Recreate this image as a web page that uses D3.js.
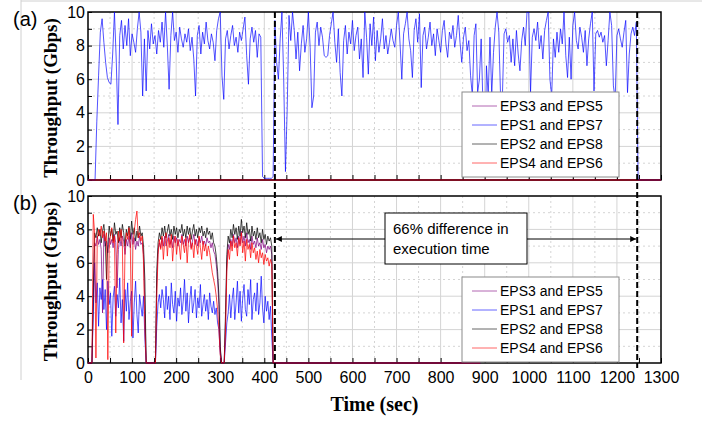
<!DOCTYPE html>
<html><head><meta charset="utf-8">
<script src="https://cdn.jsdelivr.net/npm/d3@7"></script>
<style>
body{margin:0;background:#fff;}
svg{display:block;font-family:"Liberation Sans",Arial,sans-serif;}
</style>
</head><body>
<svg id="c" width="702" height="422"></svg>
<script>
// ---------------- data ----------------
const seriesNames  = ["EPS3 and EPS5", "EPS1 and EPS7", "EPS2 and EPS8", "EPS4 and EPS6"];
const seriesColors = ["#800080", "#0000ff", "#000000", "#ff0000"];
const xTickValues = [0,100,200,300,400,500,600,700,800,900,1000,1100,1200,1300];
const yTickValues = [0,2,4,6,8,10];
const panelLabels = ["(a)", "(b)"];
const yTitle = "Throughput (Gbps)";
const xTitle = "Time (sec)";
const annotationLines = ["66% difference in", "execution time"];
const dashedTimes = [424, 1246];

// (a) sampled every 4 s from t = 0
const topStep = 4;
const topEPS1_7 = [
 0,0,0,0,0,3.5,6.2,8.8,9.6,8.2,
 7.0,6.1,5.8,5.7,7.5,10,7.2,3.3,8.6,9.5,
 7.8,9.2,8.0,9.6,7.4,8.7,8.2,7.6,9.0,10,
 8.8,5.0,8.4,5.3,8.9,7.8,9.3,8.1,8.6,7.5,
 8.9,8.2,9.4,7.9,10,8.0,5.4,8.6,10,8.3,
 8.8,7.6,9.1,8.4,7.9,8.7,8.2,9.0,7.7,8.5,
 7.2,5.0,8.6,9.2,7.5,8.8,8.1,9.4,8.3,7.8,
 8.7,8.2,7.1,8.9,9.6,10,6.2,4.8,8.4,8.9,
 7.8,8.6,9.2,8.0,8.5,7.6,8.8,8.3,9.0,9.7,
 7.4,5.7,8.4,9.1,8.2,8.9,7.3,8.7,8.5,0.2,
 0.1,0.1,0.1,0.1,0.1,0.2,9.5,7.0,6.0,8.4,
 10,6.0,0.5,4.3,9.8,8.3,10,8.9,7.2,8.8,
 6.5,8.1,9.2,7.6,8.4,10,7.9,4.3,5.0,8.8,
 9.4,8.0,9.1,8.5,7.4,7.3,7.4,8.6,9.3,10,
 8.2,7.0,9.0,6.4,5.0,8.3,9.2,7.5,8.8,8.1,
 9.5,7.7,8.6,9.1,7.2,8.4,6.1,10,8.5,6.3,
 9.3,8.0,9.7,7.1,8.9,7.6,8.4,9.6,7.8,8.6,
 7.5,8.2,9.0,8.3,7.9,9.2,10,8.1,6.0,8.7,
 9.3,10,8.4,7.7,6.1,8.9,9.6,8.2,9.9,5.5,
 8.6,9.1,7.8,8.5,9.4,8.0,8.7,7.4,9.0,8.3,
 7.6,8.9,9.5,8.1,7.3,8.8,8.4,9.2,7.9,8.6,
 9.8,8.2,7.0,8.5,9.1,7.7,8.3,6.2,5.0,8.6,
 9.3,5.2,6.0,8.4,4.5,0.2,6.8,5.0,8.5,5.1,
 7.6,9.1,10,8.8,5.0,4.8,8.7,9.0,8.2,8.6,
 7.0,8.4,6.8,8.9,7.5,6.5,8.3,9.1,8.0,10,
 10,5.2,8.5,9.0,8.3,9.4,7.8,8.6,7.2,8.9,
 9.5,10,6.0,5.0,8.4,7.3,8.8,7.6,9.0,8.1,
 10,7.4,6.1,8.5,6.0,9.2,10,8.3,7.8,9.1,
 8.5,7.6,8.9,6.8,8.4,9.3,10,5.3,8.7,8.9,
 8.5,8.8,8.2,8.6,6.8,8.3,10,9.2,5.6,4.8,
 8.6,9.0,8.4,7.9,8.8,9.5,5.2,7.5,8.7,9.1,
 8.6,9.4,0,0,0,0,0,0,0,0,
 0,0,0,0,0,0
];
const topZeroTimes = [0, 1300];      // other pairs carry no traffic in (a)
const topZeroValues = [0, 0];

// (b) sampled every 3 s from t = 0
const bottomStep = 3;
const bottomEPS3_5 = [
 0,0,0,0,3.8,7.2,7.0,7.6,7.1,7.4,
 6.8,3.0,7.7,7.0,7.3,6.6,7.5,7.1,7.4,6.9,
 7.7,7.2,4.5,6.8,7.5,7.0,7.6,7.3,6.5,7.4,
 7.0,7.6,6.9,7.8,7.1,7.5,6.8,7.3,7.0,7.6,
 7.1,7.2,6.5,3.5,0,0,0,0,0,0,
 0,0,4.8,6.8,7.2,6.9,7.5,7.0,7.6,7.0,
 7.3,7.7,7.1,7.4,6.9,7.6,7.2,7.5,7.0,7.4,
 7.2,7.7,7.1,7.4,7.0,7.6,7.2,7.5,6.9,7.3,
 7.7,7.1,7.4,7.0,7.5,7.2,7.6,7.1,7.3,7.0,
 7.5,7.2,7.3,6.9,7.2,6.7,6.5,5.9,5.0,3.5,
 0.8,0,0,0,2.5,6.0,7.1,6.8,7.4,7.0,
 7.7,7.2,7.5,6.9,7.6,7.1,7.9,7.2,7.6,7.0,
 7.8,7.2,7.4,6.8,7.6,7.1,7.3,6.9,7.5,7.0,
 7.2,6.8,7.4,6.9,7.1,6.6,7.0,6.8,7.0,6.5,
 0
];
const bottomEPS1_7 = [
 0,0,0,0,3.0,6.0,3.6,4.8,2.2,4.5,
 3.8,5.0,3.2,4.4,2.0,4.9,3.5,4.2,1.6,3.9,
 4.6,2.8,4.1,3.3,5.1,2.4,3.8,1.3,4.4,3.1,
 4.8,2.6,3.7,4.3,1.5,3.6,4.9,2.9,1.8,4.1,
 3.4,2.8,4.0,1.5,0,0,0,0,0,0,
 0,0,2.2,3.6,4.1,3.3,4.4,3.8,2.7,4.6,
 3.2,4.0,2.6,4.8,3.5,3.0,4.3,2.5,3.9,3.4,
 4.5,2.9,3.7,5.0,3.1,4.2,2.4,3.8,4.6,3.0,
 3.6,4.4,2.7,3.9,3.3,4.7,2.8,3.5,4.1,3.1,
 3.8,2.6,4.2,3.4,3.0,3.7,2.9,3.3,2.4,2.0,
 0.6,0,0,0,1.2,2.4,3.0,4.1,2.7,3.8,
 4.5,2.6,3.6,4.9,3.0,4.3,2.5,3.9,4.7,3.2,
 2.8,4.4,3.5,5.0,2.6,3.8,4.2,3.1,4.8,2.9,
 3.6,5.2,3.3,2.4,4.0,3.1,3.7,2.6,3.4,1.5,
 0
];
const bottomEPS2_8 = [
 0,0,0,0,4.5,7.8,7.5,8.1,7.6,8.0,
 7.2,7.9,8.3,7.4,5.0,7.1,8.2,7.6,8.0,7.3,
 8.4,7.7,7.9,7.2,8.1,7.5,8.3,7.8,7.0,8.0,
 7.6,8.2,7.4,8.5,7.7,8.1,7.3,7.9,7.5,8.2,
 7.6,7.8,7.0,5.0,0,0,0,0,0,0,
 0,0,5.5,7.2,7.8,7.4,8.1,7.6,8.2,7.5,
 7.9,8.3,7.6,8.0,7.4,8.2,7.7,8.1,7.5,8.0,
 7.8,8.3,7.6,8.0,7.5,8.2,7.7,8.1,7.4,7.9,
 8.3,7.6,8.0,7.5,8.1,7.8,8.2,7.6,7.9,7.5,
 8.1,7.7,7.9,7.4,7.8,7.2,7.0,6.4,5.5,4.0,
 1.0,0,0,0,3.0,6.5,7.6,7.2,8.0,7.5,
 8.3,7.7,8.1,7.4,8.2,7.6,8.6,7.8,8.2,7.5,
 8.4,7.7,8.0,7.3,8.2,7.6,7.9,7.4,8.1,7.5,
 7.8,7.2,8.0,7.4,7.7,7.1,7.6,7.3,7.5,7.0,
 0
];
const bottomEPS4_6 = [
 0,0,0,0,8.9,7.8,0.3,7.4,8.0,7.6,
 8.2,7.5,7.9,7.3,7.8,0.2,6.8,7.7,8.1,7.2,
 7.6,1.8,6.5,7.9,7.3,8.0,7.1,1.2,6.9,7.8,
 7.4,8.1,7.0,1.6,7.2,7.9,8.6,9.1,7.5,7.8,
 7.3,7.6,6.0,2.0,0,0,0,0,0,0,
 0,0,4.0,6.5,7.4,6.8,7.6,6.2,7.3,7.8,
 6.4,7.5,6.9,7.7,6.1,7.2,7.6,6.5,7.4,7.0,
 6.2,7.6,7.1,6.6,7.5,6.0,7.3,7.7,6.8,7.2,
 6.3,7.4,7.0,6.5,7.6,6.9,6.2,7.3,6.7,7.1,
 6.4,7.0,6.6,6.0,5.4,5.0,4.6,4.0,3.2,2.0,
 0.5,0,0,0,1.8,5.5,6.8,6.2,7.3,6.7,
 7.6,6.9,7.2,6.4,7.5,7.0,7.8,6.6,7.3,6.1,
 7.4,6.8,7.1,6.3,7.2,6.6,6.9,6.2,6.7,6.0,
 6.8,6.3,6.6,5.9,6.5,6.1,6.3,5.8,6.2,5.9,
 0
];
const bottomZeroEnd = 890;   // zero samples continue until this time in (b)

// ---------------- build series ----------------
const fromStep = (vals, step) => vals.map((v, i) => [i * step, v]);
const zip = (ts, vs) => ts.map((t, i) => [t, vs[i]]);
const topSeries = [
  zip(topZeroTimes, topZeroValues),
  fromStep(topEPS1_7, topStep),
  zip(topZeroTimes, topZeroValues),
  zip(topZeroTimes, topZeroValues)
];
const bottomSeries = [bottomEPS3_5, bottomEPS1_7, bottomEPS2_8, bottomEPS4_6]
  .map(vals => fromStep(vals, bottomStep).concat([[bottomZeroEnd, 0]]));

// ---------------- layout ----------------
const svg = d3.select("#c");
const L = 88, R = 661;
const panels = [
  {top: 12,  bottom: 180, data: topSeries,    label: panelLabels[0], legendTop: 92,  labels: false},
  {top: 196, bottom: 363, data: bottomSeries, label: panelLabels[1], legendTop: 277, labels: true}
];
const x = d3.scaleLinear().domain([0, 1300]).range([L, R]);

// faint figure border
svg.append("line").attr("x1", 21).attr("x2", 21).attr("y1", 0).attr("y2", 380)
  .attr("stroke", "#d0d0d0").attr("stroke-width", 1);
svg.append("line").attr("x1", 21).attr("x2", 702).attr("y1", 1).attr("y2", 1)
  .attr("stroke", "#d0d0d0").attr("stroke-width", 1);

panels.forEach((p, pi) => {
  const y = d3.scaleLinear().domain([0, 10]).range([p.bottom, p.top]);
  const g = svg.append("g");

  // grid
  const minorX = d3.range(50, 1300, 100), majorX = d3.range(100, 1300, 100);
  const minorY = [1,3,5,7,9], majorY = [2,4,6,8];
  g.selectAll(".mx").data(minorX).join("line")
    .attr("x1", d => x(d)).attr("x2", d => x(d)).attr("y1", p.top).attr("y2", p.bottom)
    .attr("stroke", "#d4d4d4").attr("stroke-dasharray", "2,3");
  g.selectAll(".my").data(minorY).join("line")
    .attr("y1", d => y(d)).attr("y2", d => y(d)).attr("x1", L).attr("x2", R)
    .attr("stroke", "#d4d4d4").attr("stroke-dasharray", "2,3");
  g.selectAll(".Mx").data(majorX).join("line")
    .attr("x1", d => x(d)).attr("x2", d => x(d)).attr("y1", p.top).attr("y2", p.bottom)
    .attr("stroke", "#d4d4d4");
  g.selectAll(".My").data(majorY).join("line")
    .attr("y1", d => y(d)).attr("y2", d => y(d)).attr("x1", L).attr("x2", R)
    .attr("stroke", "#d4d4d4");

  // frame
  g.append("rect").attr("x", L).attr("y", p.top).attr("width", R - L).attr("height", p.bottom - p.top)
    .attr("fill", "none").attr("stroke", "#000").attr("stroke-width", 1.5);

  // axes
  const ax = g.append("g").attr("transform", `translate(0,${p.bottom})`)
    .call(d3.axisBottom(x).tickValues(d3.range(0, 1301, 50)).tickSize(-5)
      .tickPadding(9).tickFormat(d => (p.labels && xTickValues.includes(d)) ? String(d) : ""));
  ax.select(".domain").remove();
  ax.selectAll("text").attr("font-size", 16).attr("font-family", "Liberation Sans, Arial, sans-serif").attr("fill", "#000");
  ax.selectAll("line").attr("stroke", "#000");

  const ay = g.append("g").attr("transform", `translate(${L},0)`)
    .call(d3.axisLeft(y).tickValues(d3.range(0, 11, 1)).tickSize(-4)
      .tickPadding(3).tickFormat(d => yTickValues.includes(d) ? String(d) : ""));
  ay.select(".domain").remove();
  ay.selectAll("text").attr("font-size", 16).attr("font-family", "Liberation Sans, Arial, sans-serif").attr("fill", "#000");
  ay.selectAll("line").attr("stroke", "#000");

  // clip
  const cid = "clip" + pi;
  svg.append("clipPath").attr("id", cid).append("rect")
    .attr("x", L).attr("y", p.top).attr("width", R - L).attr("height", p.bottom - p.top + 1);

  const line = d3.line().x(d => x(d[0])).y(d => y(d[1]));
  const dg = g.append("g").attr("clip-path", `url(#${cid})`);
  p.data.forEach((s, si) => {
    dg.append("path").attr("d", line(s)).attr("fill", "none")
      .attr("stroke", seriesColors[si]).attr("stroke-width", 0.9)
      .attr("stroke-opacity", si === 1 ? 0.75 : 0.8).attr("stroke-linejoin", "round");
  });

  // y title
  svg.append("text").attr("transform", `translate(57,${(p.top + p.bottom) / 2 + 2}) rotate(-90)`)
    .attr("text-anchor", "middle").attr("font-family", "Liberation Serif, Times New Roman, serif")
    .attr("font-weight", "bold").attr("font-size", 19).text(yTitle);

  // panel label
  svg.append("text").attr("x", 13).attr("y", p.top + 14).attr("font-size", 20).text(p.label);

  // legend
  const lx = 462, lw = 157, lh = 85;
  const lg = svg.append("g");
  lg.append("rect").attr("x", lx).attr("y", p.legendTop).attr("width", lw).attr("height", lh)
    .attr("fill", "#fff").attr("stroke", "#8a8a8a").attr("stroke-width", 1);
  seriesNames.forEach((n, i) => {
    const cy = p.legendTop + 14 + i * 19;
    lg.append("line").attr("x1", lx + 10).attr("x2", lx + 35).attr("y1", cy).attr("y2", cy)
      .attr("stroke", seriesColors[i]).attr("stroke-opacity", 0.6).attr("stroke-width", 1);
    lg.append("text").attr("x", lx + 38).attr("y", cy + 5).attr("font-size", 14).text(n);
  });
});

// dashed markers
const yTopAll = 12, yBotAll = 368;
svg.selectAll(".dash").data(dashedTimes).join("line")
  .attr("x1", d => x(d)).attr("x2", d => x(d)).attr("y1", yTopAll).attr("y2", yBotAll)
  .attr("stroke", "#000").attr("stroke-width", 2).attr("stroke-dasharray", "6,3");

// arrow annotation
const defs = svg.append("defs");
["s", "e"].forEach(k => {
  defs.append("marker").attr("id", "ar" + k).attr("viewBox", "0 0 10 10")
    .attr("refX", 10).attr("refY", 5).attr("markerWidth", 7).attr("markerHeight", 6)
    .attr("orient", k === "e" ? "auto" : "auto-start-reverse")
    .append("path").attr("d", "M0,0L10,5L0,10Z").attr("fill", "#000");
});
const arrowY = 239;
svg.append("line").attr("x1", x(dashedTimes[0]) + 1).attr("x2", x(dashedTimes[1]) - 1)
  .attr("y1", arrowY).attr("y2", arrowY).attr("stroke", "#000").attr("stroke-width", 1)
  .attr("marker-start", "url(#ars)").attr("marker-end", "url(#are)");
svg.append("rect").attr("x", 385).attr("y", 213).attr("width", 142).attr("height", 51)
  .attr("fill", "#fff").attr("stroke", "#000").attr("stroke-width", 1);
annotationLines.forEach((t, i) => {
  svg.append("text").attr("x", 393).attr("y", 234 + i * 20).attr("font-size", 15).text(t);
});

// x title
svg.append("text").attr("x", (L + R) / 2).attr("y", 411).attr("text-anchor", "middle")
  .attr("font-family", "Liberation Serif, Times New Roman, serif").attr("font-weight", "bold")
  .attr("font-size", 20).text(xTitle);
</script>
</body></html>
